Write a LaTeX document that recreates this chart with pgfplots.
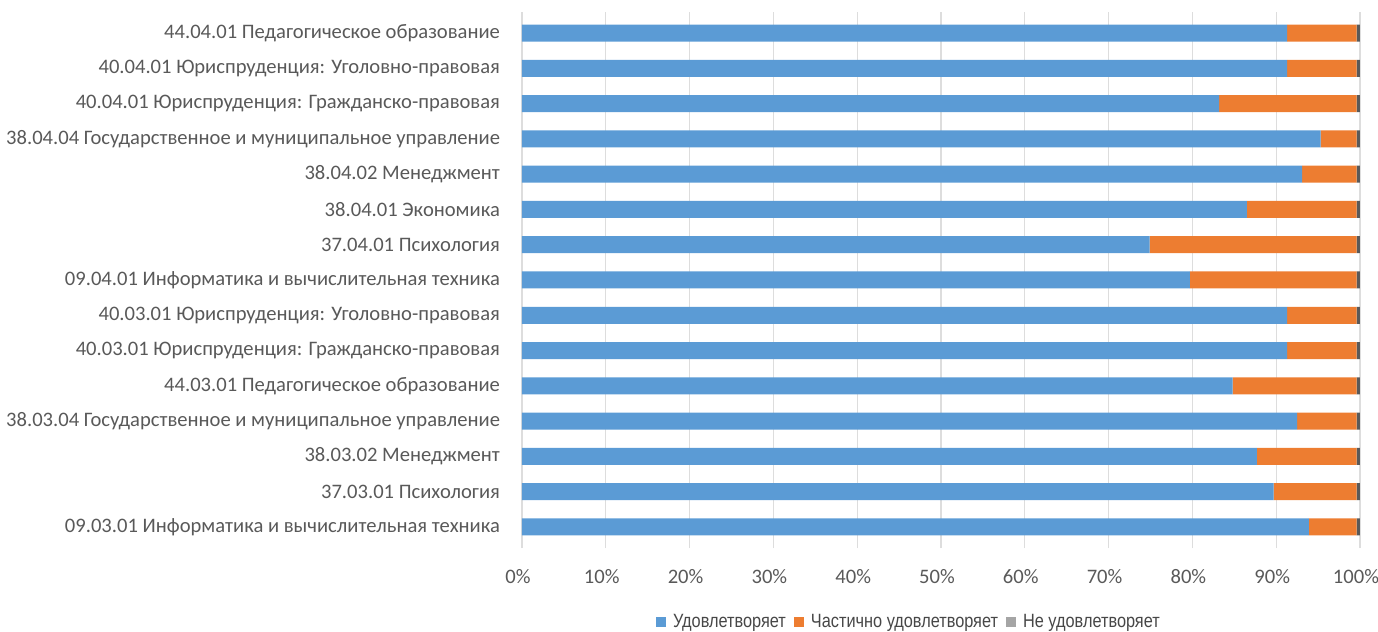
\documentclass[border=0pt]{standalone}
\usepackage{pgfplots}
\pgfplotsset{compat=1.18}
\usepackage{pgfplotstable}
\usepackage{fontspec}
\setmainfont{Carlito}
\newfontfamily\legfont[FakeStretch=0.85]{Liberation Sans}
\definecolor{cblue}{HTML}{5B9BD5}
\definecolor{cblued}{HTML}{41729F}
\definecolor{corange}{HTML}{ED7D31}
\definecolor{corand}{HTML}{B85E22}
\definecolor{cgray}{HTML}{A5A5A5}
\definecolor{cend}{HTML}{595959}
\definecolor{txt}{HTML}{595959}
\definecolor{gridc}{HTML}{DDDDDD}

\pgfplotstableread{
y a b c
0 93.9 5.7 0.4
1 89.7 9.9 0.4
2 87.7 11.9 0.4
3 92.5 7.1 0.4
4 84.8 14.8 0.4
5 91.3 8.3 0.4
6 91.3 8.3 0.4
7 79.7 19.9 0.4
8 74.9 24.7 0.4
9 86.5 13.1 0.4
10 93.1 6.5 0.4
11 95.3 4.3 0.4
12 83.2 16.4 0.4
13 91.3 8.3 0.4
14 91.3 8.3 0.4
}\data

\begin{document}
\begin{tikzpicture}
\useasboundingbox (-261pt,-42pt) rectangle (428pt,274pt);
\begin{axis}[
  at={(0,0)}, anchor=south west,
  scale only axis, width=419pt, height=268pt,
  xbar stacked, bar width=8.5pt,
  xmin=0, xmax=100, ymin=-0.6, ymax=14.6,
  axis line style={draw=none},
  major tick style={draw=none},
  xmajorgrids, grid style={gridc, line width=0.6pt},
  xtick={0,10,...,100},
  xticklabels={0\%,10\%,20\%,30\%,40\%,50\%,60\%,70\%,80\%,90\%,100\%},
  ytick={0,...,14},
  yticklabels={
    09.03.01 Информатика и вычислительная техника,
    37.03.01 Психология,
    38.03.02 Менеджмент,
    38.03.04 Государственное и муниципальное управление,
    44.03.01 Педагогическое образование,
    40.03.01 Юриспруденция: Гражданско-правовая,
    40.03.01 Юриспруденция: Уголовно-правовая,
    09.04.01 Информатика и вычислительная техника,
    37.04.01 Психология,
    38.04.01 Экономика,
    38.04.02 Менеджмент,
    38.04.04 Государственное и муниципальное управление,
    40.04.01 Юриспруденция: Гражданско-правовая,
    40.04.01 Юриспруденция: Уголовно-правовая,
    44.04.01 Педагогическое образование},
  ticklabel style={font=\fontsize{10.3}{12}\selectfont, text=txt},
  yticklabel style={xshift=-7.5pt},
  xticklabel style={yshift=-7pt, xshift=-2pt},
  legend style={at={(0.463,-0.138)}, anchor=center, draw=none,
    font=\legfont\fontsize{9.6}{11}\selectfont, text=txt!80!black,
    legend columns=-1, column sep=1.5pt,
    /tikz/every even column/.append style={column sep=2pt}},
  legend image code/.code={\fill[#1] (0pt,-2.5pt) rectangle (5pt,2.5pt);},
]
\addplot[fill=cblue, draw=none] table[x=a, y=y] {\data};
\addplot[fill=corange, draw=none] table[x=b, y=y] {\data};
\addplot[fill=cend, draw=none, forget plot] table[x=c, y=y] {\data};
\addlegendentry{Удовлетворяет}
\addlegendentry{Частично удовлетворяет}
\addlegendimage{fill=cgray, draw=none}
\addlegendentry{Не удовлетворяет}
\end{axis}
\end{tikzpicture}
\end{document}
